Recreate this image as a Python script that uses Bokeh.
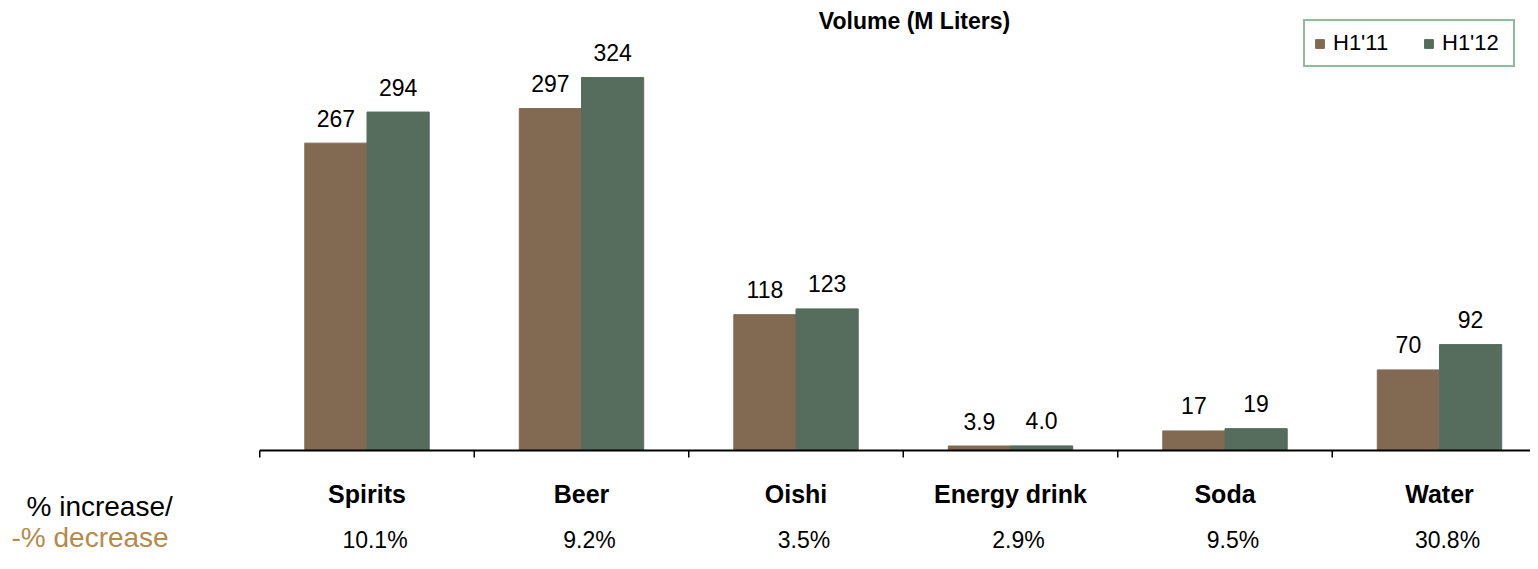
import numpy as np
from bokeh.plotting import figure
from bokeh.models import ColumnDataSource, Label, Range1d
from bokeh.embed import file_html
from bokeh.resources import INLINE
from bokeh.core.properties import value

# ---- data ----
categories = ["Spirits", "Beer", "Oishi", "Energy drink", "Soda", "Water"]
h1_11 = [267, 297, 118, 3.9, 17, 70]
h1_12 = [294, 324, 123, 4.0, 19, 92]
h1_11_labels = ["267", "297", "118", "3.9", "17", "70"]
h1_12_labels = ["294", "324", "123", "4.0", "19", "92"]
pct_change = ["10.1%", "9.2%", "3.5%", "2.9%", "9.5%", "30.8%"]
series_names = ["H1'11", "H1'12"]
title_text = "Volume (M Liters)"
side_label_1 = "% increase/"
side_label_2 = "-% decrease"

# ---- style ----
BROWN = "#826A52"
GREEN = "#566C5C"
GOLD = "#B38B4A"
LEG_BORDER = "#1E7B3C"
FONT = "Liberation Sans"

W, H = 1530, 553
OFF = 0         # canvas origin in picture pixels
TB = 8          # text baseline correction (px)
PX = 214.5      # px per category
PY = 1.1512     # px per unit of value
X0 = -(366.5 - OFF) / PX
X1 = X0 + W / PX
Y1 = (450 - OFF) / PY
Y0 = Y1 - H / PY

def dx(px):
    return X0 + (px - OFF) / PX

def dy(py):
    return Y1 - (py - OFF - TB) / PY

n = len(categories)
xc = np.arange(n)
off = 0.145
bw = 0.29

src = ColumnDataSource(dict(
    x11=xc - off, x12=xc + off, xc=xc,
    v11=h1_11, v12=h1_12, l11=h1_11_labels, l12=h1_12_labels,
    cat=categories, pct=pct_change,
    y11=np.array(h1_11) + (17 + TB) / PY, y12=np.array(h1_12) + (17 + TB) / PY,
    ycat=np.full(n, -(51 - TB) / PY), ypct=np.full(n, -(97 - TB) / PY),
))

p = figure(width=W, height=H, output_backend="svg", toolbar_location=None,
           x_range=Range1d(X0, X1), y_range=Range1d(Y0, Y1),
           x_axis_location=None, y_axis_location=None,
           min_border=0, min_border_left=0, min_border_right=0,
           min_border_top=0, min_border_bottom=0)
p.outline_line_color = None
p.xgrid.visible = False
p.ygrid.visible = False
p.background_fill_color = "white"
p.border_fill_color = "white"

p.vbar(x="x11", top="v11", width=bw, source=src, color=BROWN, legend_label=series_names[0])
p.vbar(x="x12", top="v12", width=bw, source=src, color=GREEN, legend_label=series_names[1])

# axis line & boundary ticks
bounds = np.arange(n + 1) - 0.5
p.segment(x0=[bounds[0]], x1=[X1], y0=[0], y1=[0], line_color="black", line_width=2)
p.segment(x0=bounds, x1=bounds, y0=np.zeros(n + 1), y1=np.full(n + 1, -7 / PY),
          line_color="black", line_width=1.5)

# value labels
p.text(x="x11", y="y11", text="l11", source=src, text_align="center",
       text_baseline="alphabetic", text_font=value(FONT), text_font_size="23px", text_color="black")
p.text(x="x12", y="y12", text="l12", source=src, text_align="center",
       text_baseline="alphabetic", text_font=value(FONT), text_font_size="23px", text_color="black")

# category labels
p.text(x="xc", y="ycat", text="cat", source=src, text_align="center",
       text_baseline="alphabetic", text_font=value(FONT), text_font_size="25px",
       text_font_style="bold", text_color="black")
p.text(x="xc", y="ypct", text="pct", source=src, text_align="center", x_offset=8,
       text_baseline="alphabetic", text_font=value(FONT), text_font_size="23px", text_color="black")

# side labels
p.add_layout(Label(x=dx(26), y=dy(514), text=side_label_1, text_font=FONT,
                   text_font_size="28px", text_color="black", text_baseline="alphabetic"))
p.add_layout(Label(x=dx(11), y=dy(545), text=side_label_2, text_font=FONT,
                   text_font_size="28px", text_color=GOLD, text_baseline="alphabetic"))

# title
p.add_layout(Label(x=dx(914), y=dy(28), text=title_text, text_font=FONT,
                   text_font_size="23px", text_font_style="bold", text_color="black",
                   text_align="center", text_baseline="alphabetic"))

# legend
lg = p.legend[0]
lg.location = (1303 - OFF, H - (67 - OFF))
lg.orientation = "horizontal"
lg.margin = 0
lg.padding = 9
lg.spacing = 28
lg.glyph_width = 11
lg.glyph_height = 11
lg.label_standoff = 8
lg.label_height = 21
lg.label_width = 62
lg.label_text_font = FONT
lg.label_text_font_size = "22px"
lg.label_text_color = "black"
lg.border_line_color = LEG_BORDER
lg.border_line_width = 2
lg.background_fill_color = "white"
lg.background_fill_alpha = 1

open("out.html", "w").write(file_html(p, INLINE))
